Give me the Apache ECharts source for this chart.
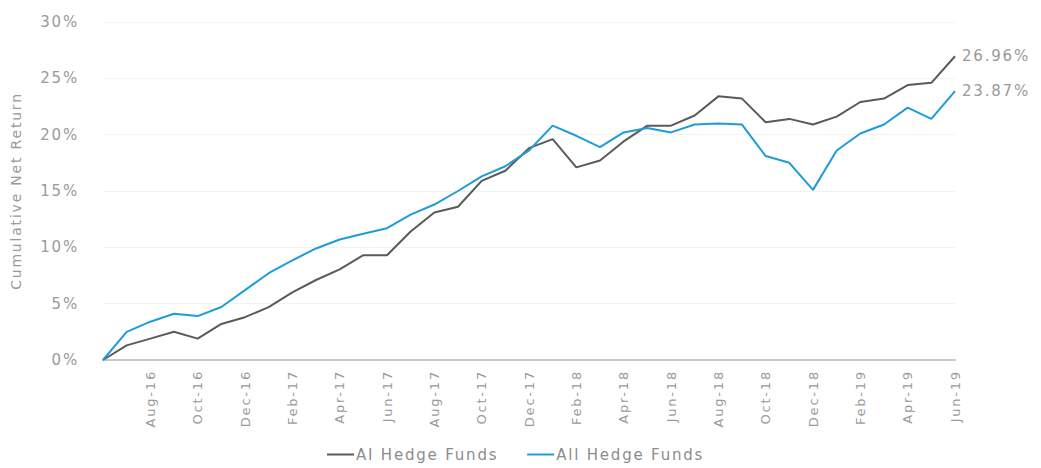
<!DOCTYPE html>
<html>
<head>
<meta charset="utf-8">
<script src="https://cdn.jsdelivr.net/npm/echarts@6/dist/echarts.min.js"></script>
<style>
html,body{margin:0;padding:0;background:#fff;}
#chart{width:1041px;height:468px;}
#chart text{letter-spacing:1.8px;}
</style>
</head>
<body>
<div id="chart"></div>
<script>
const months = ["Jun-16","Jul-16","Aug-16","Sep-16","Oct-16","Nov-16","Dec-16","Jan-17","Feb-17","Mar-17","Apr-17","May-17","Jun-17","Jul-17","Aug-17","Sep-17","Oct-17","Nov-17","Dec-17","Jan-18","Feb-18","Mar-18","Apr-18","May-18","Jun-18","Jul-18","Aug-18","Sep-18","Oct-18","Nov-18","Dec-18","Jan-19","Feb-19","Mar-19","Apr-19","May-19","Jun-19"];
const aiHedgeFunds = [0, 1.3, 1.9, 2.5, 1.9, 3.2, 3.8, 4.7, 6.0, 7.1, 8.05, 9.3, 9.3, 11.4, 13.1, 13.6, 15.9, 16.8, 18.8, 19.6, 17.1, 17.7, 19.4, 20.8, 20.8, 21.7, 23.4, 23.2, 21.1, 21.4, 20.9, 21.6, 22.9, 23.2, 24.4, 24.6, 26.96];
const allHedgeFunds = [0, 2.5, 3.4, 4.1, 3.9, 4.7, 6.2, 7.7, 8.85, 9.9, 10.7, 11.2, 11.7, 12.9, 13.8, 15.0, 16.3, 17.2, 18.6, 20.8, 19.9, 18.9, 20.2, 20.6, 20.2, 20.9, 21.0, 20.9, 18.1, 17.5, 15.1, 18.6, 20.1, 20.9, 22.4, 21.4, 23.87];
const seriesNames = ["AI Hedge Funds", "All Hedge Funds"];
const yTicks = [0, 5, 10, 15, 20, 25, 30];

const FONT = "DejaVu Sans";
const TXT = "#9a9a9a";
const chart = echarts.init(document.getElementById('chart'), null, {renderer:'svg'});
chart.setOption({
  animation: false,
  backgroundColor: '#fff',
  textStyle: {fontFamily: FONT},
  grid: {left: 103, right: 86, top: 22, bottom: 108, containLabel: false},
  legend: {
    top: 442,
    left: 322,
    icon: 'rect',
    itemWidth: 27,
    itemHeight: 2,
    itemGap: 54,
    textStyle: {color: '#8c8c8c', fontSize: 15, fontFamily: FONT, padding: [0,0,0,-3]},
    data: seriesNames
  },
  xAxis: {
    type: 'category',
    data: months,
    boundaryGap: false,
    axisLine: {lineStyle: {color: '#c8c8c8', width: 2}},
    axisTick: {show: false},
    axisLabel: {
      rotate: 90,
      color: TXT,
      fontSize: 13,
      fontFamily: FONT,
      margin: 10,
      interval: function (i) { return i > 0 && i % 2 === 0; }
    }
  },
  yAxis: {
    type: 'value',
    min: yTicks[0],
    max: yTicks[yTicks.length - 1],
    interval: 5,
    name: 'Cumulative Net Return',
    nameLocation: 'middle',
    nameGap: 80,
    nameTextStyle: {color: TXT, fontSize: 14, fontFamily: FONT},
    axisLine: {show: false},
    axisTick: {show: false},
    splitLine: {lineStyle: {color: '#f2f2f2', width: 1}},
    axisLabel: {color: TXT, fontSize: 15, fontFamily: FONT, margin: 24, formatter: '{value}%'}
  },
  series: [
    {
      name: seriesNames[0],
      type: 'line',
      data: aiHedgeFunds,
      showSymbol: false,
      symbol: 'none',
      lineStyle: {color: '#5a5a5a', width: 2},
      itemStyle: {color: '#5a5a5a'},
      endLabel: {show: true, distance: 7, color: TXT, fontSize: 15, fontFamily: FONT,
        formatter: p => p.value.toFixed(2) + '%'}
    },
    {
      name: seriesNames[1],
      type: 'line',
      data: allHedgeFunds,
      showSymbol: false,
      symbol: 'none',
      lineStyle: {color: '#1e9cd8', width: 2},
      itemStyle: {color: '#1e9cd8'},
      endLabel: {show: true, distance: 7, color: TXT, fontSize: 15, fontFamily: FONT,
        formatter: p => p.value.toFixed(2) + '%'}
    }
  ]
});
</script>
</body>
</html>
